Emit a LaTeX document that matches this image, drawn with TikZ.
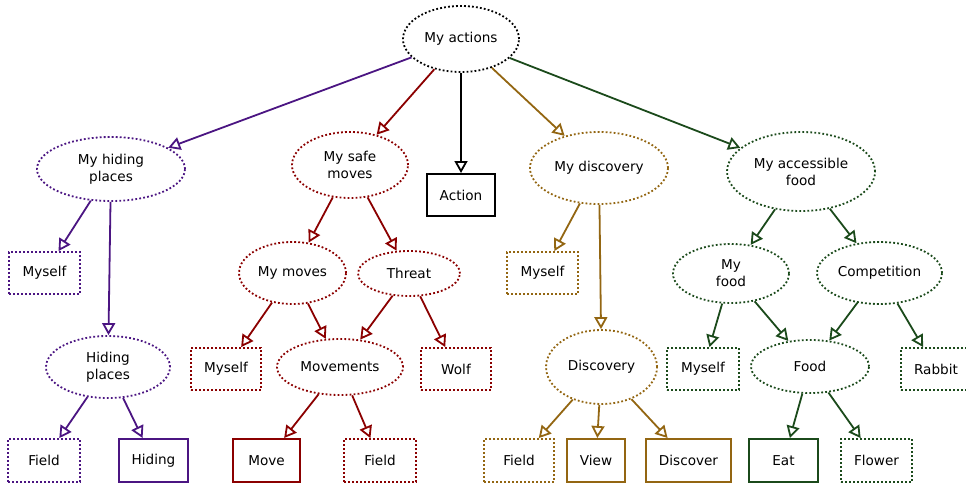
\documentclass[tikz,border=0pt]{standalone}
\usepackage{fontspec}
\setmainfont{DejaVu Sans}
\usetikzlibrary{arrows.meta,shapes.geometric}
\definecolor{cpur}{HTML}{4B1582}
\definecolor{cred}{HTML}{8B0000}
\definecolor{cgold}{HTML}{936612}
\definecolor{cgrn}{HTML}{1B4A1B}
\begin{document}
\begin{tikzpicture}[x=1pt,y=-1pt,
  font=\fontsize{13.6}{17}\selectfont,
  ell/.style={ellipse, draw, line width=1.8pt, dash pattern=on 1.8pt off 2.2pt, inner sep=0pt, align=center, text=black},
  dbox/.style={rectangle, draw, line width=1.8pt, dash pattern=on 1.8pt off 2.2pt, inner sep=0pt, minimum height=42pt, text=black},
  sbox/.style={rectangle, draw, line width=2pt, inner sep=0pt, minimum height=42pt, text=black},
  arr/.style={line width=1.8pt, -{Triangle[open,length=12pt,width=13pt]}}]
\useasboundingbox (0,0) rectangle (966,484);
% level 0
\node[ell, draw=black, minimum width=116pt, minimum height=66pt] (root) at (461,39) {My actions};
% level 1
\node[ell, draw=cpur, minimum width=148pt, minimum height=64pt] (hp) at (111,169) {My hiding\\places};
\node[ell, draw=cred, minimum width=116pt, minimum height=66pt] (sm) at (350,165) {My safe\\moves};
\node[sbox, draw=black, minimum width=68pt] (act) at (461,195) {Action};
\node[ell, draw=cgold, minimum width=138pt, minimum height=72pt] (dis) at (599,168) {My discovery};
\node[ell, draw=cgrn, minimum width=148pt, minimum height=79pt] (af) at (801,171.5) {My accessible\\food};
% level 2
\node[dbox, draw=cpur, minimum width=71pt] (my1) at (44.5,273) {Myself};
\node[ell, draw=cred, minimum width=107pt, minimum height=62pt] (mm) at (292.5,273) {My moves};
\node[ell, draw=cred, minimum width=102pt, minimum height=45pt] (th) at (409,273.5) {Threat};
\node[dbox, draw=cgold, minimum width=71pt] (my2) at (542.5,273) {Myself};
\node[ell, draw=cgrn, minimum width=116pt, minimum height=59pt] (mf) at (731,273.5) {My\\food};
\node[ell, draw=cgrn, minimum width=125pt, minimum height=62pt] (comp) at (879.5,273) {Competition};
% level 3
\node[ell, draw=cpur, minimum width=124pt, minimum height=62pt] (hpl) at (108,367) {Hiding\\places};
\node[dbox, draw=cred, minimum width=70pt] (my3) at (226,369) {Myself};
\node[ell, draw=cred, minimum width=126pt, minimum height=56pt] (mov) at (340,367) {Movements};
\node[dbox, draw=cred, minimum width=70pt] (wolf) at (456,369) {Wolf};
\node[ell, draw=cgold, minimum width=111pt, minimum height=74pt] (disc) at (601.5,367) {Discovery};
\node[dbox, draw=cgrn, minimum width=72pt] (my4) at (703,369) {Myself};
\node[ell, draw=cgrn, minimum width=118pt, minimum height=53pt] (food) at (810,366.5) {Food};
\node[dbox, draw=cgrn, minimum width=70pt] (rab) at (936,369) {Rabbit};
% level 4
\node[dbox, draw=cpur, minimum width=72pt, minimum height=43pt] (f1) at (44,460.5) {Field};
\node[sbox, draw=cpur, minimum width=69pt, minimum height=43pt] (hid) at (153.5,460.5) {Hiding};
\node[sbox, draw=cred, minimum width=67pt, minimum height=43pt] (move) at (266.5,460.5) {Move};
\node[dbox, draw=cred, minimum width=72pt, minimum height=43pt] (f2) at (380,460.5) {Field};
\node[dbox, draw=cgold, minimum width=70pt, minimum height=43pt] (f3) at (519,460.5) {Field};
\node[sbox, draw=cgold, minimum width=58pt, minimum height=43pt] (view) at (596,460.5) {View};
\node[sbox, draw=cgold, minimum width=85pt, minimum height=43pt] (discover) at (688.5,460.5) {Discover};
\node[sbox, draw=cgrn, minimum width=69pt, minimum height=43pt] (eat) at (783.5,460.5) {Eat};
\node[dbox, draw=cgrn, minimum width=71pt, minimum height=43pt] (flower) at (876.5,460.5) {Flower};
% edges
\draw[arr, cpur] (root) -- (hp);
\draw[arr, cred] (root) -- (sm);
\draw[arr, black] (root) -- (act);
\draw[arr, cgold] (root) -- (dis);
\draw[arr, cgrn] (root) -- (af);
\draw[arr, cpur] (hp) -- (my1);
\draw[arr, cpur] (hp) -- (hpl);
\draw[arr, cpur] (hpl) -- (f1);
\draw[arr, cpur] (hpl) -- (hid);
\draw[arr, cred] (sm) -- (mm);
\draw[arr, cred] (sm) -- (th);
\draw[arr, cred] (mm) -- (my3);
\draw[arr, cred] (mm) -- (mov);
\draw[arr, cred] (th) -- (mov);
\draw[arr, cred] (th) -- (wolf);
\draw[arr, cred] (mov) -- (move);
\draw[arr, cred] (mov) -- (f2);
\draw[arr, cgold] (dis) -- (my2);
\draw[arr, cgold] (dis) -- (disc);
\draw[arr, cgold] (disc) -- (f3);
\draw[arr, cgold] (disc) -- (view);
\draw[arr, cgold] (disc) -- (discover);
\draw[arr, cgrn] (af) -- (mf);
\draw[arr, cgrn] (af) -- (comp);
\draw[arr, cgrn] (mf) -- (my4);
\draw[arr, cgrn] (mf) -- (food);
\draw[arr, cgrn] (comp) -- (food);
\draw[arr, cgrn] (comp) -- (rab);
\draw[arr, cgrn] (food) -- (eat);
\draw[arr, cgrn] (food) -- (flower);
\end{tikzpicture}
\end{document}
